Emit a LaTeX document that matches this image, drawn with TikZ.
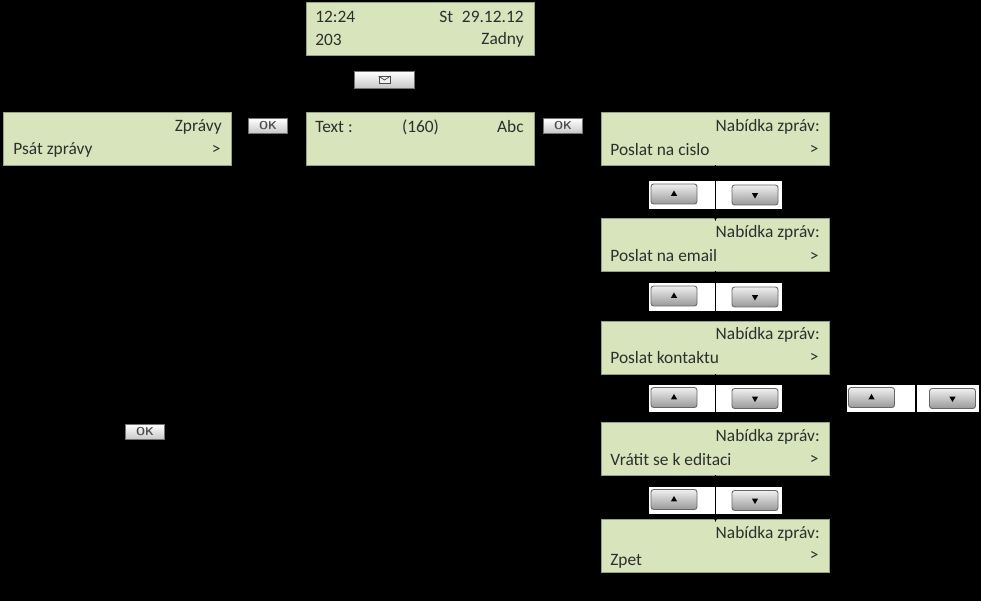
\documentclass[tikz,border=0pt]{standalone}
\usepackage{fontspec}
\setmainfont{Carlito}
\usetikzlibrary{shapes.geometric,arrows.meta}
\definecolor{lcdgreen}{HTML}{D8E4BC}
\definecolor{lcdtext}{HTML}{2E2E2E}
\begin{document}
\begin{tikzpicture}[
  x=0.02cm, y=-0.02cm,
  lcd/.style={draw=lcdgreen!70!black, line width=0.3pt, fill=lcdgreen, minimum width=4.56cm, minimum height=1.06cm, inner sep=0pt},
  lcdtxt/.style={font=\fontsize{9.9}{11}\selectfont, text=lcdtext, inner sep=0pt},
  okkey/.style={draw=black!55, line width=0.8pt, top color=white, bottom color=black!22, minimum width=0.78cm, minimum height=0.3cm, inner sep=0pt, font=\sffamily\bfseries\fontsize{6.5}{6.5}\selectfont, text=black!70},
  panel/.style={fill=white, minimum width=2.66cm, minimum height=0.55cm, inner sep=0pt},
  navkey/.style={draw=black!60, line width=0.5pt, rounded corners=1.5pt, top color=black!6, bottom color=black!40, minimum width=0.92cm, minimum height=0.4cm, inner sep=0pt},
  uptip/.style={regular polygon, regular polygon sides=3, fill=black, inner sep=0pt, minimum size=4pt},
  downtip/.style={uptip, shape border rotate=180},
  link/.style={draw=black, line width=0.7pt, -{Latex[length=4pt,width=4pt]}}
]

% Black ground
\fill[black] (0,0) rectangle (981,601);

% Idle screen
\node[lcd] (idle) at (420.5,28.5) {};
\node[lcdtxt, anchor=west] (idleTime) at (315,17) {12:24};
\node[lcdtxt, anchor=west] (idleDay) at (439,17) {St};
\node[lcdtxt, anchor=east] (idleDate) at (524,17) {29.12.12};
\node[lcdtxt, anchor=west] (idleNum) at (315,40) {203};
\node[lcdtxt, anchor=east] (idleState) at (524,40) {Zadny};

% Envelope key
\node[okkey, minimum width=1.2cm, minimum height=0.34cm] (msgKey) at (384.5,80) {};
\node[draw=black!70, line width=0.5pt, fill=black!5, minimum width=0.22cm, minimum height=0.14cm, inner sep=0pt] (envelope) at (384.5,80) {};
\draw[black!70, line width=0.4pt] (envelope.north west) -- (envelope.center) -- (envelope.north east);

% Messages screen
\node[lcd] (msgs) at (117.5,138.5) {};
\node[lcdtxt, anchor=east] (msgsTitle) at (222,127) {Zprávy};
\node[lcdtxt, anchor=west] (msgsItem) at (13,149.5) {Psát zprávy};
\node[lcdtxt, anchor=east] (msgsMore) at (221,149.5) {>};

\node[okkey] (okA) at (268,126) {OK};

% Text screen
\node[lcd] (text) at (420.5,138.5) {};
\node[lcdtxt, anchor=west] (textLabel) at (315,127) {Text :};
\node[lcdtxt] (textCount) at (420.5,127) {(160)};
\node[lcdtxt, anchor=east] (textMode) at (524,127) {Abc};

\node[okkey] (okB) at (563,126) {OK};

% Message menu screens
\node[lcd] (menuA) at (715.5,138.5) {};
\node[lcdtxt, anchor=east] (menuAtitle) at (820,127) {Nabídka zpráv:};
\node[lcdtxt, anchor=west] (menuAitem) at (610,149.5) {Poslat na cislo};
\node[lcdtxt, anchor=east] (menuAmore) at (819,149.5) {>};

\node[lcd] (menuB) at (715.5,244.5) {};
\node[lcdtxt, anchor=east] (menuBtitle) at (820,232.5) {Nabídka zpráv:};
\node[lcdtxt, anchor=west] (menuBitem) at (610,256) {Poslat na email};
\node[lcdtxt, anchor=east] (menuBmore) at (819,256.5) {>};

\node[lcd] (menuC) at (715.5,347.5) {};
\node[lcdtxt, anchor=east] (menuCtitle) at (820,335) {Nabídka zpráv:};
\node[lcdtxt, anchor=west] (menuCitem) at (610,358) {Poslat kontaktu};
\node[lcdtxt, anchor=east] (menuCmore) at (819,358) {>};

\node[lcd] (menuD) at (715.5,448.5) {};
\node[lcdtxt, anchor=east] (menuDtitle) at (820,436.5) {Nabídka zpráv:};
\node[lcdtxt, anchor=west] (menuDitem) at (610,459.5) {Vrátit se k editaci};
\node[lcdtxt, anchor=east] (menuDmore) at (819,459.5) {>};

\node[lcd] (menuE) at (715.5,545.5) {};
\node[lcdtxt, anchor=east] (menuEtitle) at (820,533.5) {Nabídka zpráv:};
\node[lcdtxt, anchor=west] (menuEitem) at (610,561) {Zpet};
\node[lcdtxt, anchor=east] (menuEmore) at (819,556) {>};

% Up and down keys
\foreach \name/\px/\py in {navA/715.5/195, navB/715.5/297, navC/715.5/398.5, navD/715.5/500.5, navE/913/398.5} {
  \node[panel] (\name) at (\px,\py) {};
  \node[navkey] (\name Up) at (\px-41.5,\py-1) {};
  \node[navkey] (\name Down) at (\px+39.5,\py) {};
  \node[uptip] (\name UpTip) at (\name Up) {};
  \node[downtip] (\name DownTip) at (\name Down) {};
}

% Links between menu screens
\draw[link, shorten >=-2pt] (menuA) -- (menuB);
\draw[link] (menuB) -- (menuC);
\draw[link] (menuC) -- (menuD);
\draw[link, shorten >=-2pt] (menuD) -- (menuE);

% Line through the lone key pair
\coordinate (navEtop) at (916,385);
\coordinate (navEbottom) at (916,412);
\draw[draw=black, line width=0.7pt] (navEtop) -- (navEbottom);

\node[okkey] (okC) at (145,432) {OK};

\end{tikzpicture}
\end{document}
